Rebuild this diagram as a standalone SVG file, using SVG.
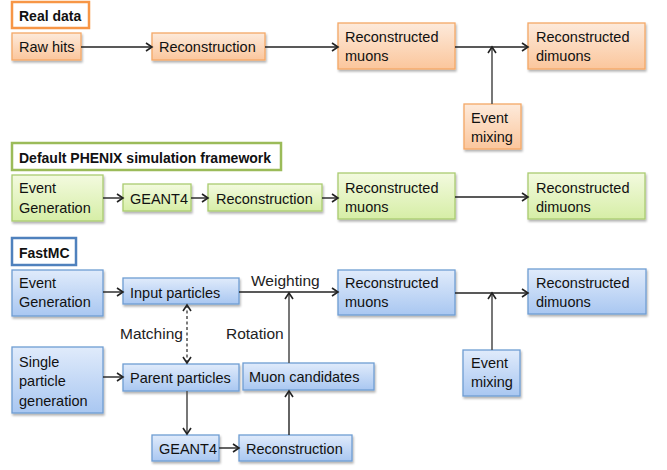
<svg xmlns="http://www.w3.org/2000/svg" width="667" height="470" viewBox="0 0 667 470">
<defs>
<linearGradient id="gO" x1="0" y1="0" x2="0" y2="1"><stop offset="0" stop-color="#fdeadb"/><stop offset="1" stop-color="#fbc69c"/></linearGradient>
<linearGradient id="gG" x1="0" y1="0" x2="0" y2="1"><stop offset="0" stop-color="#f3fadf"/><stop offset="1" stop-color="#d6eea6"/></linearGradient>
<linearGradient id="gB" x1="0" y1="0" x2="0" y2="1"><stop offset="0" stop-color="#e0ebfb"/><stop offset="1" stop-color="#a9c7f1"/></linearGradient>
<filter id="sh" x="-10%" y="-10%" width="130%" height="140%"><feDropShadow dx="1" dy="2" stdDeviation="1" flood-color="#000" flood-opacity="0.3"/></filter>
<marker id="ah" viewBox="0 0 10 10" markerWidth="10" markerHeight="10" refX="8" refY="5" orient="auto-start-reverse" markerUnits="userSpaceOnUse"><path d="M2,1 L8,5 L2,9" fill="none" stroke="#222" stroke-width="1.6"/></marker>
</defs>
<style>
.o{fill:url(#gO);stroke:#f5a866;stroke-width:1.3;filter:url(#sh)}
.g{fill:url(#gG);stroke:#aacb70;stroke-width:1.3;filter:url(#sh)}
.b{fill:url(#gB);stroke:#6f9dd3;stroke-width:1.3;filter:url(#sh)}
.to{fill:#fff;stroke:#f79646;stroke-width:2.5}
.tg{fill:#fff;stroke:#9bbb59;stroke-width:2.5}
.tb{fill:#fff;stroke:#4f81bd;stroke-width:2.5}
text{font-family:"Liberation Sans",Arial,sans-serif;font-size:14.5px;fill:#111}
.t{font-weight:bold;font-size:14px}
.lbl{font-size:15.5px;fill:#222}
.c{fill:none;stroke:#222;stroke-width:1.4;marker-end:url(#ah)}
.cg{fill:none;stroke:#555;stroke-width:1.6;marker-end:url(#ah)}
.d{fill:none;stroke:#444;stroke-width:1.4;stroke-dasharray:3,2.5;marker-start:url(#ah);marker-end:url(#ah)}
</style>

<g id="title-real"><rect class="to" x="12" y="2" width="77" height="26"/><text class="t" x="19" y="21">Real data</text></g>
<g id="real-rawhits"><rect class="o" x="12" y="33" width="69" height="27"/><text x="19" y="52">Raw hits</text></g>
<g id="real-reco"><rect class="o" x="152" y="33" width="113" height="27"/><text x="159" y="52">Reconstruction</text></g>
<g id="real-muons"><rect class="o" x="338" y="23" width="117" height="46"/><text x="345" y="42">Reconstructed</text><text x="345" y="61">muons</text></g>
<g id="real-dimuons"><rect class="o" x="528" y="23" width="117" height="46"/><text x="536" y="42">Reconstructed</text><text x="536" y="61">dimuons</text></g>
<g id="real-mixing"><rect class="o" x="464" y="104" width="57" height="45"/><text x="471" y="123">Event</text><text x="471" y="142">mixing</text></g>

<g id="title-default"><rect class="tg" x="12" y="143" width="269" height="27"/><text class="t" x="19" y="163">Default PHENIX simulation framework</text></g>
<g id="def-evgen"><rect class="g" x="12" y="175" width="91" height="46"/><text x="19" y="193">Event</text><text x="19" y="213">Generation</text></g>
<g id="def-geant"><rect class="g" x="123" y="184" width="68" height="27"/><text x="130" y="204">GEANT4</text></g>
<g id="def-reco"><rect class="g" x="208" y="184" width="114" height="27"/><text x="216" y="204">Reconstruction</text></g>
<g id="def-muons"><rect class="g" x="338" y="173" width="117" height="46"/><text x="345" y="193">Reconstructed</text><text x="345" y="212">muons</text></g>
<g id="def-dimuons"><rect class="g" x="528" y="173" width="117" height="46"/><text x="536" y="193">Reconstructed</text><text x="536" y="212">dimuons</text></g>

<g id="title-fastmc"><rect class="tb" x="12" y="238" width="64" height="27"/><text class="t" x="19" y="258">FastMC</text></g>
<g id="fm-evgen"><rect class="b" x="12" y="270" width="91" height="46"/><text x="19" y="288">Event</text><text x="19" y="307">Generation</text></g>
<g id="fm-input"><rect class="b" x="123" y="278" width="116" height="26"/><text x="130" y="298">Input particles</text></g>
<g id="fm-muons"><rect class="b" x="338" y="270" width="117" height="45"/><text x="345" y="288">Reconstructed</text><text x="345" y="307">muons</text></g>
<g id="fm-dimuons"><rect class="b" x="528" y="269" width="118" height="45"/><text x="536" y="288">Reconstructed</text><text x="536" y="307">dimuons</text></g>
<g id="fm-mixing"><rect class="b" x="463" y="350" width="57" height="46"/><text x="471" y="368">Event</text><text x="471" y="387">mixing</text></g>
<g id="fm-single"><rect class="b" x="12" y="347" width="91" height="66"/><text x="19" y="367">Single</text><text x="19" y="386">particle</text><text x="19" y="406">generation</text></g>
<g id="fm-parent"><rect class="b" x="123" y="364" width="116" height="27"/><text x="130" y="383">Parent particles</text></g>
<g id="fm-candidates"><rect class="b" x="243" y="363" width="131" height="27"/><text x="249" y="382">Muon candidates</text></g>
<g id="fm-geant"><rect class="b" x="152" y="435" width="67" height="26"/><text x="159" y="454">GEANT4</text></g>
<g id="fm-reco"><rect class="b" x="239" y="435" width="113" height="26"/><text x="246" y="454">Reconstruction</text></g>

<g id="connectors">
<path class="c" d="M81,47 H152"/>
<path class="c" d="M265,47 H338"/>
<path class="c" d="M455,47 H528"/>
<path class="cg" d="M492,104 V47"/>
<path class="c" d="M103,198 H123"/>
<path class="c" d="M191,198 H208"/>
<path class="c" d="M322,198 H338"/>
<path class="c" d="M455,197 H528"/>
<path class="c" d="M103,292 H123"/>
<path class="c" d="M239,292 H338"/>
<path class="c" d="M455,293 H528"/>
<path class="cg" d="M492,350 V293"/>
<path class="c" d="M103,377 H123"/>
<path class="d" d="M187,305 V363"/>
<path class="cg" d="M289,363 V293"/>
<path class="cg" d="M187,391 V434"/>
<path class="c" d="M219,448 H239"/>
<path class="c" d="M289,435 V391"/>
<text class="lbl" x="251" y="286">Weighting</text>
<text class="lbl" x="120" y="339">Matching</text>
<text class="lbl" x="226" y="339">Rotation</text>
</g>
</svg>
